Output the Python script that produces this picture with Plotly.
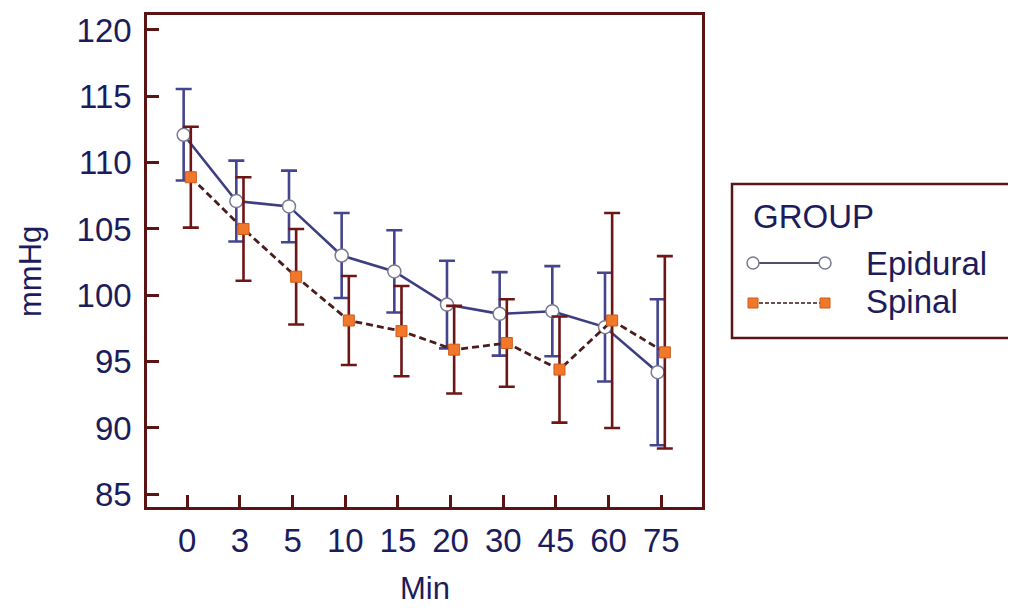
import plotly.graph_objects as go

# ---------------- data ----------------
minutes = ["0", "3", "5", "10", "15", "20", "30", "45", "60", "75"]
epidural_mean = [112.1, 107.1, 106.7, 103.0, 101.8, 99.3, 98.6, 98.8, 97.6, 94.2]
epidural_err = [3.45, 3.05, 2.7, 3.2, 3.1, 3.3, 3.15, 3.4, 4.1, 5.5]
spinal_mean = [108.9, 105.0, 101.4, 98.1, 97.3, 95.9, 96.4, 94.4, 98.1, 95.7]
spinal_err = [3.8, 3.9, 3.6, 3.35, 3.4, 3.3, 3.3, 4.0, 8.1, 7.25]
y_ticks = [85, 90, 95, 100, 105, 110, 115, 120]

# ---------------- style ----------------
OFF = 8                      # page body margin of the html
W, H = 1016 - OFF, 610 - OFF
ML, MR, MT, MB = 147 - OFF, 314, 15 - OFF, 103
FONT = "Liberation Sans, Arial, sans-serif"
FS = 33
TXT = "#1c1c5c"
FRAME = "#5a1414"
EPI_LINE = "#3d3d82"
EPI_ERR = "#45458e"
SPI_LINE = "#4a1c1c"
SPI_ERR = "#6e1616"
ORANGE = "#f0782a"

idx = list(range(len(minutes)))
off = 0.068
x_epi = [i - off for i in idx]
x_spi = [i + off for i in idx]

fig = go.Figure()

fig.add_trace(go.Scatter(
    x=x_epi, y=epidural_mean, name="Epidural", mode="lines+markers",
    line=dict(color=EPI_LINE, width=2.6),
    marker=dict(symbol="circle", size=13, color="white",
                line=dict(color="#7a7a90", width=1.5)),
    error_y=dict(type="data", array=epidural_err, visible=True,
                 color=EPI_ERR, thickness=2.6, width=8),
    showlegend=False,
))
fig.add_trace(go.Scatter(
    x=x_spi, y=spinal_mean, name="Spinal", mode="lines+markers",
    line=dict(color=SPI_LINE, width=2.8, dash="7px,4px"),
    marker=dict(symbol="square", size=11, color=ORANGE,
                line=dict(color="#d05a18", width=1)),
    error_y=dict(type="data", array=spinal_err, visible=True,
                 color=SPI_ERR, thickness=2.6, width=8),
    showlegend=False,
))

# reference-pixel -> paper helpers (layout only)
PW, PH = W - ML - MR, H - MT - MB
def px(x):
    return (x - OFF - ML) / PW
def py(y):
    return (H - MB - (y - OFF)) / PH

shapes = []
annotations = []

# legend box
shapes.append(dict(type="rect", xref="paper", yref="paper",
                   x0=px(732), x1=px(1040), y0=py(338), y1=py(184),
                   line=dict(color=FRAME, width=2.5), fillcolor="rgba(0,0,0,0)"))
annotations.append(dict(text="GROUP", xref="paper", yref="paper", x=px(751), y=py(216),
                        xanchor="left", yanchor="middle", showarrow=False,
                        font=dict(family=FONT, size=FS, color=TXT)))
# Epidural legend symbol
shapes.append(dict(type="line", xref="paper", yref="paper",
                   x0=px(753), x1=px(825), y0=py(263), y1=py(263),
                   line=dict(color="#50506a", width=2)))
for cx in (753, 825):
    shapes.append(dict(type="circle", xref="paper", yref="paper",
                       x0=px(cx - 6), x1=px(cx + 6), y0=py(263 + 6), y1=py(263 - 6),
                       line=dict(color="#7a7a90", width=1.5), fillcolor="white"))
annotations.append(dict(text="Epidural", xref="paper", yref="paper", x=px(864), y=py(263),
                        xanchor="left", yanchor="middle", showarrow=False,
                        font=dict(family=FONT, size=FS, color=TXT)))
# Spinal legend symbol
shapes.append(dict(type="line", xref="paper", yref="paper",
                   x0=px(753), x1=px(825), y0=py(303), y1=py(303),
                   line=dict(color="#3a1a1a", width=1.3, dash="4px,2px")))
for cx in (753, 825):
    shapes.append(dict(type="rect", xref="paper", yref="paper",
                       x0=px(cx - 5), x1=px(cx + 5), y0=py(303 + 5), y1=py(303 - 5),
                       line=dict(color="#d05a18", width=1), fillcolor=ORANGE))
annotations.append(dict(text="Spinal", xref="paper", yref="paper", x=px(864), y=py(301),
                        xanchor="left", yanchor="middle", showarrow=False,
                        font=dict(family=FONT, size=FS, color=TXT)))

# axis titles
annotations.append(dict(text="mmHg", xref="paper", yref="paper", x=px(30), y=py(272),
                        xanchor="center", yanchor="middle", textangle=-90, showarrow=False,
                        font=dict(family=FONT, size=31, color=TXT)))
annotations.append(dict(text="Min", xref="paper", yref="paper", x=px(425), y=py(588),
                        xanchor="center", yanchor="middle", showarrow=False,
                        font=dict(family=FONT, size=31, color=TXT)))

fig.update_layout(
    width=W, height=H,
    margin=dict(l=ML, r=MR, t=MT, b=MB, autoexpand=False),
    paper_bgcolor="white", plot_bgcolor="white",
    font=dict(family=FONT, size=FS, color=TXT),
    shapes=shapes, annotations=annotations,
    showlegend=False,
)
fig.update_xaxes(
    range=[-0.764, 9.774], tickmode="array", tickvals=idx, ticktext=minutes,
    showgrid=False, zeroline=False, showline=True, mirror=True,
    linecolor=FRAME, linewidth=2.5,
    ticks="inside", ticklen=12, tickwidth=2.5, tickcolor=FRAME,
    tickfont=dict(family=FONT, size=FS, color=TXT), ticklabelstandoff=3,
)
fig.update_yaxes(
    range=[84.04, 121.13], tickmode="array", tickvals=y_ticks,
    showgrid=False, zeroline=False, showline=True, mirror=True,
    linecolor=FRAME, linewidth=2.5,
    ticks="inside", ticklen=12, tickwidth=2.5, tickcolor=FRAME,
    tickfont=dict(family=FONT, size=FS, color=TXT), ticklabelstandoff=6,
)

fig.write_html("out.html")
